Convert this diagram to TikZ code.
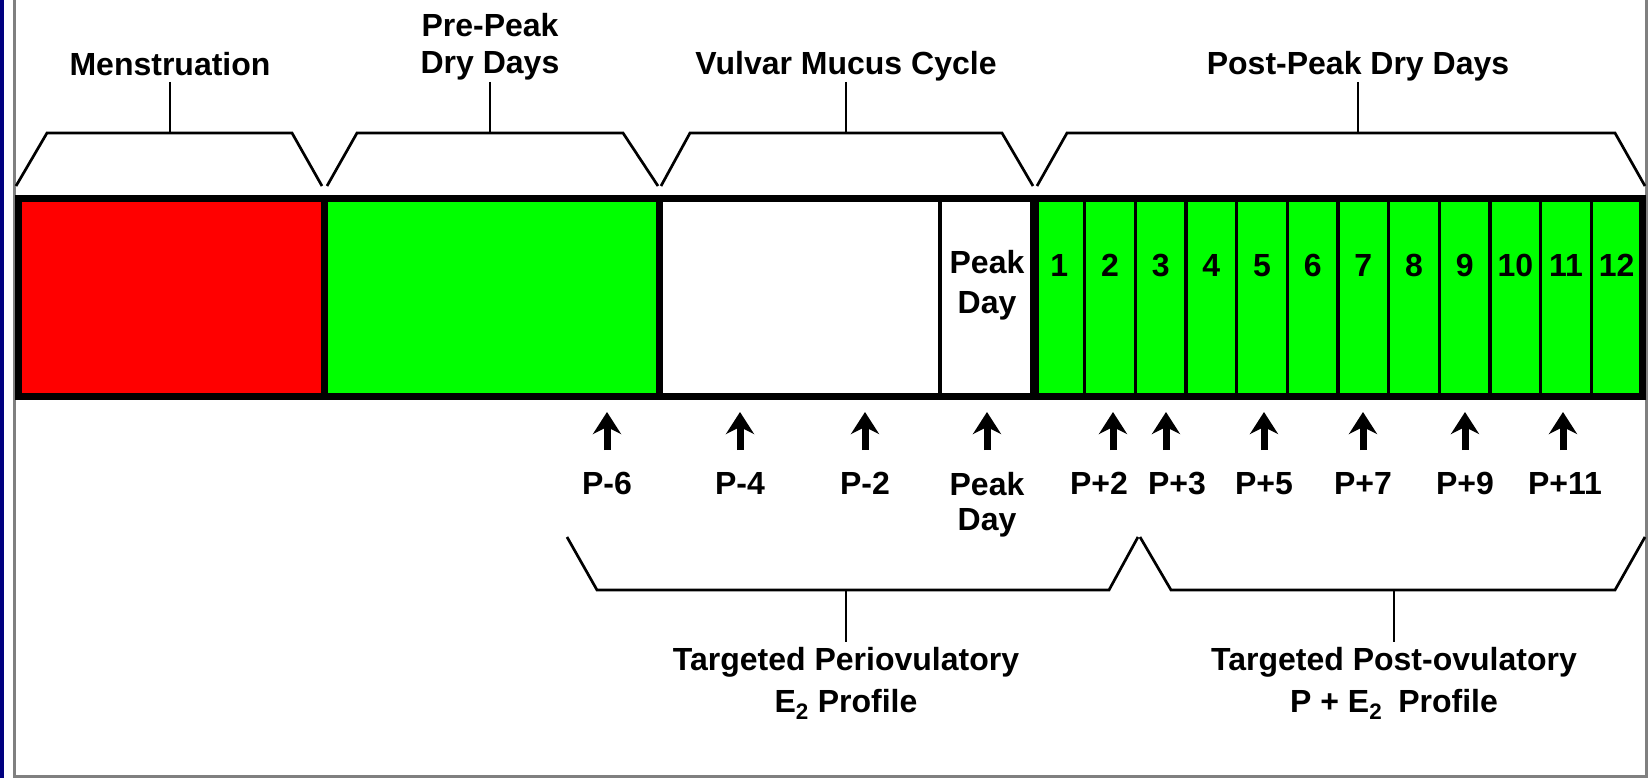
\documentclass[tikz,border=0pt]{standalone}
\usepackage{fontspec}
\setmainfont{Liberation Sans}
\usetikzlibrary{arrows.meta,positioning}
\definecolor{mensred}{HTML}{FF0000}
\definecolor{drygreen}{HTML}{00FF00}
\definecolor{slidenavy}{HTML}{000080}
\definecolor{framegrey}{HTML}{808080}

\begin{document}
\begin{tikzpicture}[x=1pt, y=-1pt,
  lbl/.style={font=\bfseries\fontsize{32}{39}\selectfont, align=center, inner sep=2pt, anchor=north},
  brk/.style={line width=2.7pt},
  seg/.style={anchor=north west, minimum height=197pt, inner sep=0pt, outer sep=0pt, draw=black, line width=3.5pt},
  uparrow/.style={line width=7pt, -{Stealth[length=22pt, width=28pt, inset=7pt]}}]
  \useasboundingbox (0,0) rectangle (1650,778);
  \fill[slidenavy] (0,0) rectangle (4,778);
  \draw[framegrey, line width=3pt] (14.5,0) -- (14.5,776) -- (1646,776) -- (1646,0);

  % the cycle bar
  \node[seg, fill=mensred, minimum width=306pt] (segmens) at (18,199) {};
  \node[seg, fill=drygreen, minimum width=335pt] (segpre) at (324,199) {};
  \node[seg, fill=white, minimum width=281pt] (segmucus) at (659,199) {};
  \node[seg, fill=white, minimum width=94pt] (segpeak) at (940,199) {};
  \foreach \i in {1,...,12}
    \node[seg, fill=drygreen, minimum width=50.67pt] (cell\i) at ({1034+(\i-1)*50.67},199) {};
  \node[lbl] (peaktxt) at ([yshift=-49pt]segpeak.north) {Peak\\[1pt]Day};
  \foreach \i in {1,...,12}
    \node[lbl] (num\i) at ([yshift=-53pt]cell\i.north) {\i};
  \draw[line width=7pt] (segmens.north west) rectangle (cell12.south east);
  \draw[line width=7pt] (segpre.north west) -- (segpre.south west);
  \draw[line width=7pt] (segmucus.north west) -- (segmucus.south west);
  \draw[line width=9pt] (cell1.north west) -- (cell1.south west);

  % phases above the bar
  \coordinate (stemtop) at (0,82);
  \coordinate (brktop) at (0,133);
  \node[lbl] (lblmens) at (170,50) {Menstruation};
  \node[lbl] (lblpre) at (490,11) {Pre-Peak\\[-2pt]Dry Days};
  \node[lbl] (lblmucus) at (846,49) {Vulvar Mucus Cycle};
  \node[lbl] (lblpost) at (1358,49) {Post-Peak Dry Days};
  \draw[brk] (16,186) -- (47,133) -- (292,133) -- (322,186);
  \draw[brk] (327,186) -- (357,133) -- (623,133) -- (658,186);
  \draw[brk] (661,186) -- (690,133) -- (1002,133) -- (1033,186);
  \draw[brk] (1037,186) -- (1067,133) -- (1615,133) -- (1645,186);
  \foreach \nm in {lblmens,lblpre,lblmucus,lblpost}
    \draw[brk] (\nm.south |- stemtop) -- (\nm.south |- brktop);

  % sampling days
  \foreach \lx/\dx/\txt/\nm in {607/0/P-6/am6, 740/0/P-4/am4, 865/0/P-2/am2,
      987/0/{Peak\\[-4pt]Day}/apk, 1099/14/P+2/ap2, 1177/-11/P+3/ap3, 1264/0/P+5/ap5,
      1363/0/P+7/ap7, 1465/0/P+9/ap9, 1565/-2/P+11/ap11} {
    \node[lbl] (\nm) at (\lx,470) {\txt};
    \draw[uparrow] ([xshift=\dx pt, yshift=20pt]\nm.north) -- ++(0,-38);
  }

  % hormone profiles below
  \coordinate (brkbot) at (0,590);
  \coordinate (stembot) at (0,642);
  \node[lbl] (lblperi) at (846,645) {Targeted Periovulatory\\[3pt]E\textsubscript{2} Profile};
  \node[lbl] (lblpostov) at (1394,645) {Targeted Post-ovulatory\\[3pt]P + E\textsubscript{2}\enspace Profile};
  \draw[brk] (567,537) -- (597,590) -- (1109,590) -- (1138,537);
  \draw[brk] (1140,537) -- (1171,590) -- (1615,590) -- (1645,537);
  \foreach \nm in {lblperi,lblpostov}
    \draw[brk] (\nm.north |- brkbot) -- (\nm.north |- stembot);
\end{tikzpicture}
\end{document}
